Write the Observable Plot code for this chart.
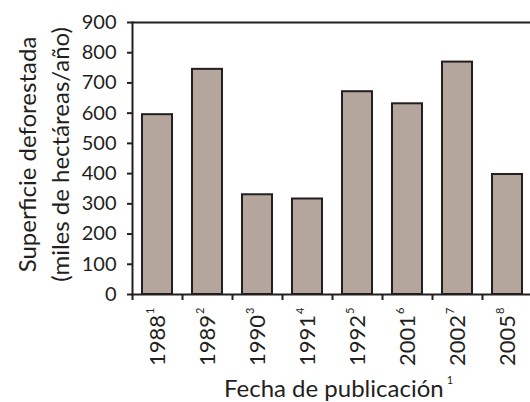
<!DOCTYPE html>
<html>
<head>
<meta charset="utf-8">
<script src="https://cdn.jsdelivr.net/npm/d3@7"></script>
<script src="https://cdn.jsdelivr.net/npm/@observablehq/plot@0.6"></script>
<style>
  html, body { margin: 0; padding: 0; background: #fff; overflow: hidden; }
  #chart svg { display: block; overflow: visible; }
</style>
</head>
<body>
<div id="chart"></div>
<script>
const years = ["1988", "1989", "1990", "1991", "1992", "2001", "2002", "2005"];
const notes = ["1", "2", "3", "4", "5", "6", "7", "8"];
const values = [595, 745, 330, 316, 671, 631, 769, 397];
const yTicks = [0, 100, 200, 300, 400, 500, 600, 700, 800, 900];
const yTitle = "Superficie deforestada\n(miles de hectáreas/año)";
const xTitle = "Fecha de publicación";
const xTitleNote = "1";

const data = years.map((year, i) => ({year, value: values[i]}));

const W = 530, H = 402, ML = 132, MR = -2, MT = 22, MB = 108;
const step = (W - MR - ML) / years.length;
const ink = "#231f20";

const chart = Plot.plot({
  width: W, height: H,
  marginLeft: ML, marginRight: MR, marginTop: MT, marginBottom: MB,
  style: {fontFamily: "Lato, sans-serif", fontSize: "20px", color: ink, background: "#fff", overflow: "visible"},
  x: {domain: years, paddingInner: 0.4, paddingOuter: 0.2, label: null},
  y: {domain: [0, 900], label: null},
  marks: [
    Plot.barY(data, {x: "year", y: "value", fill: "#b4a59d", stroke: ink, strokeWidth: 2}),
    Plot.ruleY([0], {stroke: ink, strokeWidth: 2}),
    Plot.ruleY([900], {stroke: ink, strokeWidth: 2}),
    Plot.frame({anchor: "left", stroke: ink, strokeWidth: 2}),
    Plot.axisY({ticks: yTicks, tickSize: 5, tickPadding: 11, fontSize: 20, strokeWidth: 2, label: null}),
    Plot.axisX({tickSize: 6, tickFormat: () => "", dx: -step / 2, strokeWidth: 2, label: null}),
    Plot.axisX({tickSize: 0, tickRotate: -90, tickPadding: 13, fontSize: 22, label: null}),
    Plot.text([yTitle], {frameAnchor: "left", textAnchor: "middle", lineAnchor: "middle", rotate: -90, dx: -91, dy: -4, fontSize: 24, lineHeight: 1.375, fill: ink}),
    Plot.text([xTitle], {frameAnchor: "bottom", textAnchor: "middle", lineAnchor: "bottom", dx: 6, dy: 102, fontSize: 24, fill: ink})
  ]
});

// superscript footnote markers
d3.select(chart).selectAll('g[aria-label="x-axis tick label"] text').each(function () {
  const i = years.indexOf(this.textContent);
  if (i < 0) return;
  d3.select(this).append("tspan").attr("font-size", 11).attr("dx", 1).attr("dy", "-0.95em").text(notes[i]);
});
d3.select(chart).selectAll('g[aria-label="text"] text').each(function () {
  if (this.textContent === xTitle) {
    d3.select(this).append("tspan").attr("font-size", 11).attr("dx", 3).attr("dy", "-1.1em").text(xTitleNote);
  }
});

document.getElementById("chart").appendChild(chart);
</script>
</body>
</html>
